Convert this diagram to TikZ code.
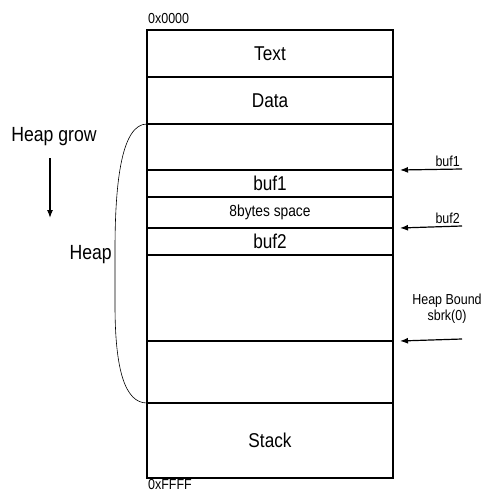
\documentclass[tikz,border=0pt]{standalone}
\usepackage{fontspec}
\setmainfont{Liberation Sans}[FakeStretch=0.86]
\usetikzlibrary{arrows.meta,positioning}

\begin{document}
\begin{tikzpicture}[x=1pt, y=-1pt,
    every node/.style={font=\fontsize{14.5}{16}\selectfont},
    seg/.style={draw, line width=1.6pt, minimum width=246pt, inner sep=0pt,
                outer sep=0pt, anchor=north west,
                font=\fontsize{20}{22}\selectfont},
    ptr/.style={-{Latex[length=8pt,width=6pt]}, line width=1.2pt},
    addr/.style={inner sep=1pt, font=\fontsize{14.5}{16}\selectfont},
    biglabel/.style={font=\fontsize{20.5}{22}\selectfont},
]
\useasboundingbox (0,0) rectangle (490,497);

% -------- Memory layout --------
\node[seg, minimum height=47pt] (text)    at (147,30)            {Text};
\node[seg, minimum height=47pt] (data)    at (text.south west)    {Data};
\node[seg, minimum height=46pt] (heaptop) at (data.south west)    {};
\node[seg, minimum height=27pt] (buf1)    at (heaptop.south west) {buf1};
\node[seg, minimum height=31pt, font=\fontsize{16}{18}\selectfont]
                                (gap)     at (buf1.south west)    {8bytes space};
\node[seg, minimum height=27pt] (buf2)    at (gap.south west)     {buf2};
\node[seg, minimum height=86pt] (free)    at (buf2.south west)    {};
\node[seg, minimum height=62pt] (bound)   at (free.south west)    {};
\node[seg, minimum height=75pt] (stack)   at (bound.south west)   {Stack};

% addresses
\node[addr, anchor=south west, yshift=5pt] (lowaddr) at (text.north west) {0x0000};
\node[addr, anchor=north west] (highaddr) at (stack.south west) {0xFFFF};

% -------- Heap region --------
\draw[line width=0.6pt] (heaptop.north west)
    .. controls (122,124) and (115,180) .. (115,250) -- (115,305)
    .. controls (115,370) and (125,403) .. (stack.north west);
\node[biglabel, anchor=east, inner sep=1pt] (heaplbl) at (113,255) {Heap};

\node[biglabel] (grow) at (54,137) {Heap grow};
\coordinate (growtail) at (50,158);
\coordinate (growtip)  at (50,218);
\draw[ptr] (growtail) -- (growtip);

% -------- Pointers --------
\coordinate (b1tail) at (462,169);
\draw[ptr] (b1tail) -- ([xshift=7pt]buf1.north east);
\node[anchor=south east, inner sep=2pt] (b1lbl) at (b1tail) {buf1};

\coordinate (b2tail) at (462,226);
\draw[ptr] (b2tail) -- ([xshift=7pt]buf2.north east);
\node[anchor=south east, inner sep=2pt] (b2lbl) at (b2tail) {buf2};

\coordinate (brktail) at (462,339);
\draw[ptr] (brktail) -- ([xshift=7pt]bound.north east);
\node[align=center, inner sep=1pt] (brklbl) at (447,309) {Heap Bound\\sbrk(0)};

\end{tikzpicture}
\end{document}
